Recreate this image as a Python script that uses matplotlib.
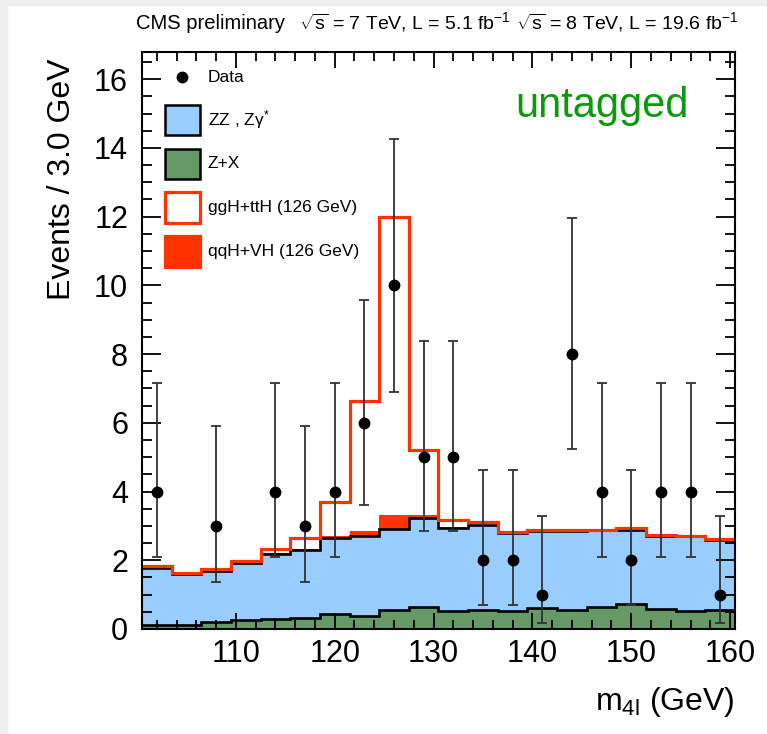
import numpy as np
import matplotlib
matplotlib.use('Agg')
import matplotlib.pyplot as plt
from matplotlib.patches import Rectangle
from matplotlib.lines import Line2D
from matplotlib.ticker import MultipleLocator

plt.rcParams['font.family'] = ['Liberation Sans', 'DejaVu Sans']
plt.rcParams['mathtext.fontset'] = 'custom'
plt.rcParams['mathtext.rm'] = 'Liberation Sans'
plt.rcParams['mathtext.it'] = 'Liberation Sans:italic'
plt.rcParams['mathtext.bf'] = 'Liberation Sans:bold'

# m4l binning, 3 GeV bins
bin_edges = [100.5, 103.5, 106.5, 109.5, 112.5, 115.5, 118.5, 121.5, 124.5, 127.5,
             130.5, 133.5, 136.5, 139.5, 142.5, 145.5, 148.5, 151.5, 154.5, 157.5, 160.5]

# stacked expectations (events / bin)
zx  = [0.12, 0.13, 0.20, 0.25, 0.28, 0.32, 0.44, 0.38, 0.55, 0.63,
       0.51, 0.56, 0.51, 0.62, 0.56, 0.64, 0.74, 0.59, 0.53, 0.55]
zz  = [1.65, 1.46, 1.48, 1.67, 1.89, 1.97, 2.22, 2.32, 2.37, 2.60,
       2.43, 2.46, 2.27, 2.23, 2.29, 2.24, 2.15, 2.12, 2.17, 2.05]
qqh = [0.02, 0.02, 0.02, 0.03, 0.03, 0.04, 0.06, 0.16, 0.40, 0.09,
       0.03, 0.02, 0.02, 0.01, 0.01, 0.01, 0.02, 0.01, 0.01, 0.01]
ggh = [0.03, 0.03, 0.04, 0.04, 0.12, 0.33, 0.98, 3.78, 8.68, 1.89,
       0.20, 0.08, 0.03, 0.02, 0.01, 0.00, 0.02, 0.01, 0.01, 0.01]

# data points (only non-empty bins) with poisson errors
data_m   = [102, 108, 114, 117, 120, 123, 126, 129, 132, 135, 138, 141, 144, 147, 150, 153, 156, 159]
data_n   = [4, 3, 4, 3, 4, 6, 10, 5, 5, 2, 2, 1, 8, 4, 2, 4, 4, 1]
data_elo = [1.91, 1.63, 1.91, 1.63, 1.91, 2.38, 3.11, 2.16, 2.16, 1.29, 1.29, 0.83, 2.77, 1.91, 1.29, 1.91, 1.91, 0.83]
data_ehi = [3.16, 2.92, 3.16, 2.92, 3.16, 3.58, 4.27, 3.38, 3.38, 2.64, 2.64, 2.30, 3.95, 3.16, 2.64, 3.16, 3.16, 2.30]

c_blue = '#99ccff'
c_green = '#669966'
c_red = '#ff3300'
c_text = '#0a9a0a'

W, H = 767, 734
fig = plt.figure(figsize=(W/100, H/100), dpi=100)
fig.patch.set_facecolor('white')
fig.patches.append(Rectangle((0, 0), 7/W, 1, transform=fig.transFigure, color='#efefef', zorder=-5))
fig.patches.append(Rectangle((0, 1-5/H), 1, 5/H, transform=fig.transFigure, color='#efefef', zorder=-5))

ax = fig.add_axes([142/W, 1-629/H, (735-142)/W, (629-51.7)/H])

s_zx = np.array(zx)
s_zz = s_zx + np.array(zz)
s_qq = s_zz + np.array(qqh)
s_gg = s_qq + np.array(ggh)

ax.stairs(s_zx, bin_edges, baseline=0, fill=True, color=c_green, lw=0)
ax.stairs(s_zz, bin_edges, baseline=s_zx, fill=True, color=c_blue, lw=0)
ax.stairs(s_qq, bin_edges, baseline=s_zz, fill=True, color=c_red, lw=0)
ax.stairs(s_zz, bin_edges, baseline=None, color='black', lw=1.9)
ax.stairs(s_zx, bin_edges, baseline=None, color='black', lw=1.9)
ax.stairs(s_gg, bin_edges, baseline=None, color=c_red, lw=2.3)

ax.errorbar(data_m, data_n, yerr=[data_elo, data_ehi], fmt='o', color='black', ms=7.5,
            ecolor='#333333', elinewidth=1.3, capsize=3.5, capthick=1.3, zorder=5)

ax.set_xlim(100.5, 160.5)
ax.set_ylim(0, 16.8)
ax.xaxis.set_major_locator(MultipleLocator(10))
ax.xaxis.set_minor_locator(MultipleLocator(2))
ax.yaxis.set_major_locator(MultipleLocator(2))
ax.yaxis.set_minor_locator(MultipleLocator(0.5))
ax.set_axisbelow(False)
ax.tick_params(which='both', direction='in', top=True, right=True, width=1.3, labelsize=22)
ax.tick_params(axis='y', which='major', length=14, pad=10)
ax.tick_params(axis='y', which='minor', length=7)
ax.tick_params(axis='x', which='major', length=11.5, pad=7)
ax.tick_params(axis='x', which='minor', length=6.5)
for sp in ax.spines.values():
    sp.set_linewidth(1.5)

# axis titles
fig.text(62/W, 1-58/H, 'Events / 3.0 GeV', rotation=90, ha='center', va='top', size=23)
fig.text(735/W, 1-710/H, r'm$_{\mathrm{4l}}$ (GeV)', ha='right', va='baseline', size=23)

# header
fig.text(136/W, 1-29/H, 'CMS preliminary', ha='left', va='baseline', size=14.5)
fig.text(299/W, 1-29/H, r'$\sqrt{\mathrm{s}}$ = 7 TeV, L = 5.1 fb$^{\mathrm{-1}}$', ha='left', va='baseline', size=14)
fig.text(516/W, 1-29/H, r'$\sqrt{\mathrm{s}}$ = 8 TeV, L = 19.6 fb$^{\mathrm{-1}}$', ha='left', va='baseline', size=14)

fig.text(602/W, 1-117/H, 'untagged', color=c_text, ha='center', va='baseline', size=30)

# legend
def fx(x):
    return x / W

def fy(y):
    return 1 - y / H

fig.lines.append(Line2D([fx(182)], [fy(77)], marker='o', ms=7.5, color='black', transform=fig.transFigure))
fig.text(fx(208), fy(78), 'Data', ha='left', va='center', size=12.5)
leg_items = [
    ('ZZ , Z\u03b3$^{*}$', c_blue, 'black', 105, 135),
    ('Z+X', c_green, 'black', 149, 179),
    ('ggH+ttH (126 GeV)', 'white', c_red, 192, 223),
    ('qqH+VH (126 GeV)', c_red, c_red, 236, 267),
]
for lab, fc, ec, y0, y1 in leg_items:
    fig.patches.append(Rectangle((fx(165), fy(y1)), (200-165)/W, (y1-y0)/H, transform=fig.transFigure,
                                 facecolor=fc, edgecolor=ec, lw=1.8 if ec == 'black' else 2.3))
    fig.text(fx(208), fy((y0+y1)/2), lab, ha='left', va='center', size=12.5)

fig.savefig('out.png', dpi=100)
